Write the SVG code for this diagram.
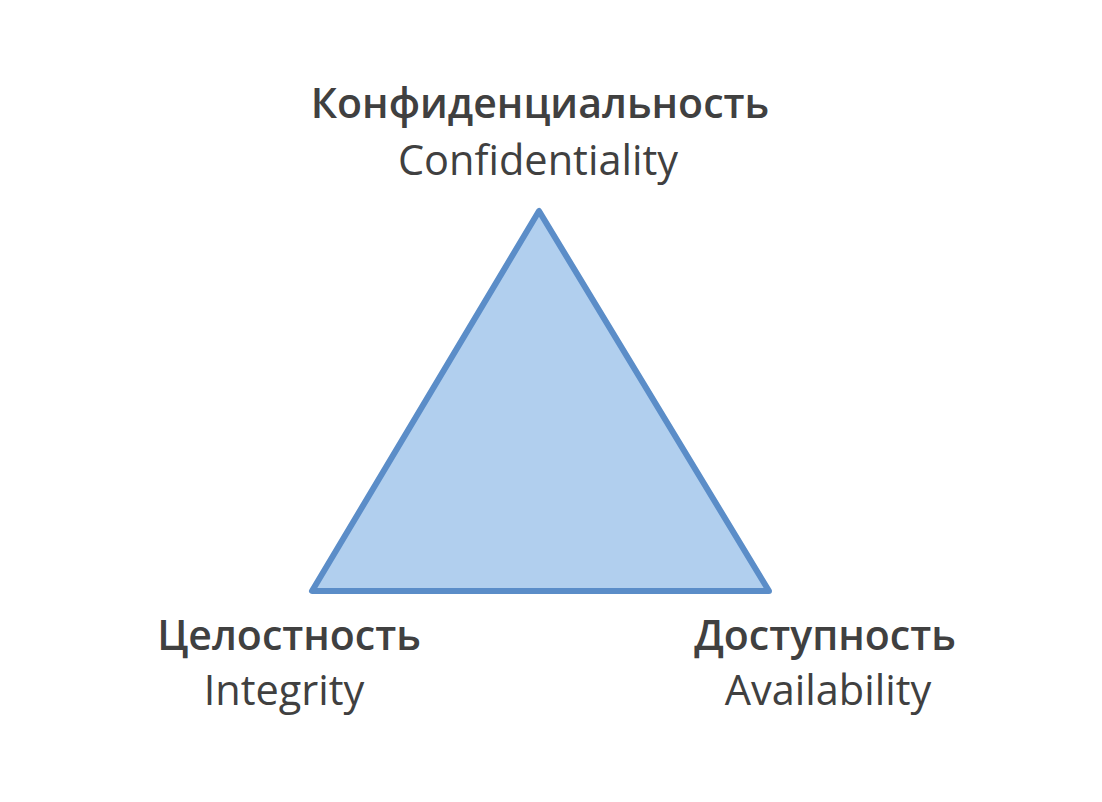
<svg xmlns="http://www.w3.org/2000/svg" width="1102" height="802" viewBox="0 0 1102 802">
<style>
.t{font-family:"Open Sans","Noto Sans","DejaVu Sans",sans-serif;fill:#404040;text-anchor:middle}
.b{font-weight:600;font-size:41px}
.r{font-weight:400;font-size:41.5px}
</style>
<rect width="1102" height="802" fill="#ffffff"/>
<g id="triangle">
<polygon points="539,211 312,591 769,591" fill="#b1cfee" stroke="#5b8dc8" stroke-width="6" stroke-linejoin="round"/>
</g>
<g id="connectors"></g>
<g id="confidentiality">
<text class="t b" x="540" y="118">Конфиденциальность</text>
<text class="t r" x="538" y="175">Confidentiality</text>
</g>
<g id="integrity">
<text class="t b" x="289" y="650">Целостность</text>
<text class="t r" x="284" y="705">Integrity</text>
</g>
<g id="availability">
<text class="t b" x="825" y="650">Доступность</text>
<text class="t r" x="828" y="705">Availability</text>
</g>
</svg>
